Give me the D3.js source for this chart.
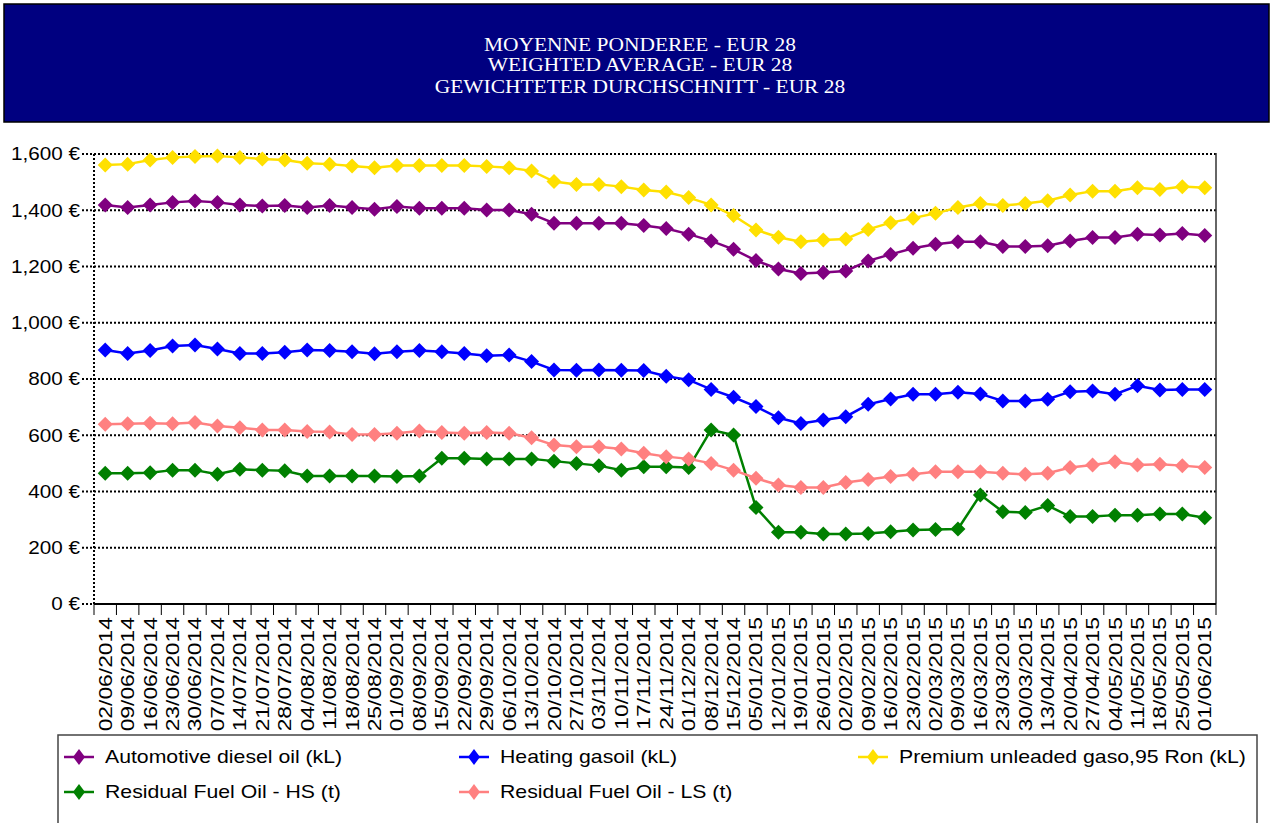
<!DOCTYPE html>
<html><head><meta charset="utf-8">
<script src="https://cdn.jsdelivr.net/npm/d3@7"></script>
<style>body{margin:0;background:#fff}svg{display:block}</style>
</head><body>
<svg id="c" width="1272" height="823"></svg>
<script>
const dates = ["02/06/2014","09/06/2014","16/06/2014","23/06/2014","30/06/2014","07/07/2014","14/07/2014","21/07/2014","28/07/2014","04/08/2014","11/08/2014","18/08/2014","25/08/2014","01/09/2014","08/09/2014","15/09/2014","22/09/2014","29/09/2014","06/10/2014","13/10/2014","20/10/2014","27/10/2014","03/11/2014","10/11/2014","17/11/2014","24/11/2014","01/12/2014","08/12/2014","15/12/2014","05/01/2015","12/01/2015","19/01/2015","26/01/2015","02/02/2015","09/02/2015","16/02/2015","23/02/2015","02/03/2015","09/03/2015","16/03/2015","23/03/2015","30/03/2015","13/04/2015","20/04/2015","27/04/2015","04/05/2015","11/05/2015","18/05/2015","25/05/2015","01/06/2015"];
const diesel = [1419,1410,1419,1428,1433,1428,1419,1415,1417,1410,1417,1410,1404,1413,1407,1407,1407,1401,1401,1386,1354,1354,1354,1354,1346,1335,1315,1291,1261,1221,1191,1175,1179,1184,1220,1243,1265,1279,1288,1288,1271,1271,1274,1291,1303,1303,1315,1312,1317,1310];
const heating = [903,891,901,917,921,907,891,891,895,903,901,897,890,897,901,897,891,883,885,862,832,831,832,831,830,810,797,763,735,702,662,642,654,666,710,729,746,746,753,747,722,722,728,755,757,746,776,761,763,763];
const premium = [1561,1564,1579,1588,1591,1593,1588,1582,1579,1567,1564,1557,1551,1559,1559,1559,1559,1556,1551,1540,1502,1492,1492,1484,1472,1465,1445,1419,1381,1330,1304,1288,1294,1298,1332,1356,1372,1389,1410,1424,1417,1424,1434,1454,1468,1468,1480,1474,1484,1480];
const fuelHS = [465,465,467,476,476,461,479,476,474,455,455,455,455,453,455,518,518,516,516,516,508,500,492,476,488,488,485,619,601,343,255,255,249,249,251,257,263,265,267,388,328,325,350,311,311,316,316,320,320,307];
const fuelLS = [639,641,643,641,645,633,627,619,619,613,612,603,603,607,615,610,607,610,607,591,565,559,559,551,536,524,516,500,476,447,423,414,414,432,443,453,461,470,470,470,465,461,465,485,494,506,494,497,492,485];
const seriesNames = ["Automotive diesel oil (kL)","Heating gasoil (kL)","Premium unleaded gaso,95 Ron (kL)","Residual Fuel Oil - HS (t)","Residual Fuel Oil - LS (t)"];
const seriesColors = ["#800080","#0000ff","#ffe000","#008000","#ff8080"];
const yTicks = [0,200,400,600,800,1000,1200,1400,1600];
const titleLines = ["MOYENNE PONDEREE - EUR 28","WEIGHTED AVERAGE - EUR 28","GEWICHTETER DURCHSCHNITT - EUR 28"];

const series = [diesel, heating, premium, fuelHS, fuelLS].map((v,i)=>({name:seriesNames[i], color:seriesColors[i], values:v}));

const svg = d3.select("#c");
const L=94, R=1216, T=154, B=604;
const x = d3.scaleBand().domain(dates).range([L,R]);
const bw = x.bandwidth();
const cx = d => x(d)+bw/2;
const y = d3.scaleLinear().domain([0,1600]).range([B,T]);
const SANS = "'Liberation Sans',Arial,sans-serif";

// header
svg.append("rect").attr("x",4).attr("y",4).attr("width",1265).attr("height",118).attr("fill","#000080").attr("stroke","#000").attr("stroke-width",1.5);
svg.append("g").selectAll("text").data(titleLines).join("text")
  .attr("transform",(d,i)=>`translate(640,${[51,71,93][i]}) scale(1.1,1)`).attr("text-anchor","middle")
  .attr("fill","#fff").style("font-family","'Liberation Serif','Times New Roman',serif").style("font-size","19.5px").text(d=>d);

// gridlines
svg.append("g").selectAll("line").data(yTicks).join("line")
  .attr("x1",82).attr("x2",R).attr("y1",d=>y(d)).attr("y2",d=>y(d))
  .attr("stroke","#000").attr("stroke-width",2).attr("stroke-dasharray","2,2");
// left axis
svg.append("line").attr("x1",L).attr("x2",L).attr("y1",T).attr("y2",B).attr("stroke","#000").attr("stroke-width",2).attr("stroke-dasharray","2,2");
// right border
svg.append("line").attr("x1",R).attr("x2",R).attr("y1",T-1).attr("y2",B).attr("stroke","#333").attr("stroke-width",1.5);
// bottom axis
svg.append("line").attr("x1",L).attr("x2",R).attr("y1",B).attr("y2",B).attr("stroke","#000").attr("stroke-width",2);
// x ticks at band boundaries
const bounds = dates.map(d=>x(d)).concat([R]);
svg.append("g").selectAll("line").data(bounds).join("line")
  .attr("x1",d=>d).attr("x2",d=>d).attr("y1",B).attr("y2",B+11).attr("stroke","#000").attr("stroke-width",1);

// y labels
svg.append("g").selectAll("text").data(yTicks).join("text")
  .attr("transform",d=>`translate(80,${y(d)}) scale(1.15,1)`).attr("dy","0.36em").attr("text-anchor","end")
  .style("font-family",SANS).style("font-size","18px").attr("fill","#000")
  .text(d=>d3.format(",")(d)+" €");

// x labels
svg.append("g").selectAll("text").data(dates).join("text")
  .attr("transform",d=>`translate(${cx(d)},617) rotate(-90) scale(1.27,1)`).attr("dy","0.36em").attr("text-anchor","end")
  .style("font-family",SANS).style("font-size","18px").attr("fill","#000")
  .text(d=>d);

// lines and markers
const line = d3.line().x((v,i)=>cx(dates[i])).y(v=>y(v));
const diamond = "M0,-7.5L7.5,0L0,7.5L-7.5,0Z";
series.forEach(s=>{
  const g = svg.append("g");
  g.append("path").attr("d",line(s.values)).attr("fill","none").attr("stroke",s.color).attr("stroke-width",2.5);
  g.selectAll("path.m").data(s.values).join("path").attr("class","m")
    .attr("transform",(v,i)=>`translate(${cx(dates[i])},${y(v)})`).attr("d",diamond).attr("fill",s.color);
});

// legend
svg.append("rect").attr("x",58).attr("y",735).attr("width",1199).attr("height",120).attr("fill","#fff").attr("stroke","#444").attr("stroke-width",1.5);
const legPos = [[79,757],[474,757],[873,757],[79,792],[474,792]];
series.forEach((s,i)=>{
  const [mx,my]=legPos[i];
  const g = svg.append("g");
  g.append("line").attr("x1",mx-15).attr("x2",mx+15).attr("y1",my).attr("y2",my).attr("stroke",s.color).attr("stroke-width",2.5);
  g.append("path").attr("d","M0,-8L6,0L0,8L-6,0Z").attr("transform",`translate(${mx},${my})`).attr("fill",s.color);
  g.append("text").attr("transform",`translate(${mx+26},${my}) scale(1.18,1)`).attr("dy","0.36em")
    .style("font-family",SANS).style("font-size","18px").attr("fill","#000").text(s.name);
});
</script>
</body></html>
